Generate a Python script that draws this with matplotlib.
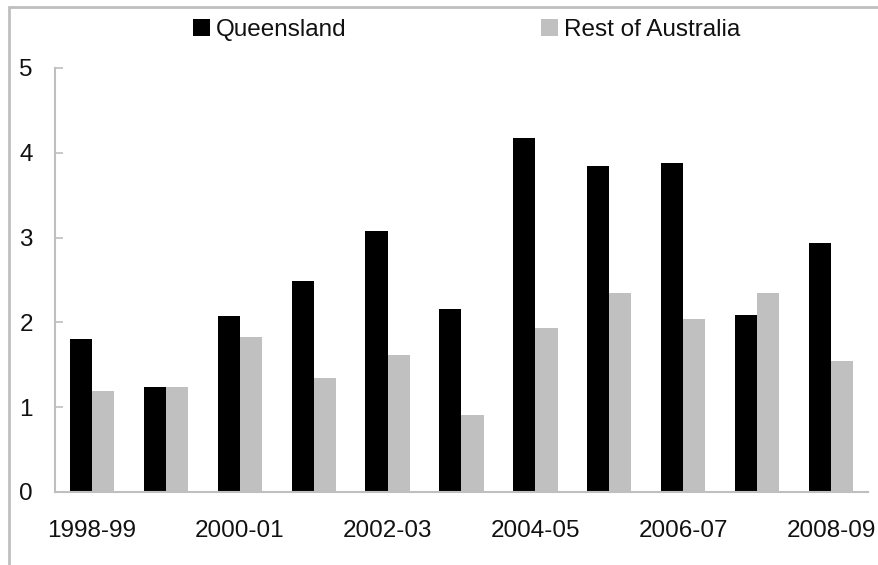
import matplotlib
matplotlib.use("Agg")
import matplotlib.pyplot as plt
from matplotlib.patches import Rectangle
import numpy as np

categories = ["1998-99", "1999-00", "2000-01", "2001-02", "2002-03", "2003-04",
              "2004-05", "2005-06", "2006-07", "2007-08", "2008-09"]
queensland = [1.81, 1.24, 2.07, 2.49, 3.08, 2.16, 4.17, 3.84, 3.88, 2.09, 2.94]
rest_of_australia = [1.19, 1.24, 1.83, 1.34, 1.62, 0.91, 1.93, 2.35, 2.04, 2.35, 1.55]
series_names = ["Queensland", "Rest of Australia"]
y_ticks = [0, 1, 2, 3, 4, 5]

plt.rcParams['font.family'] = ['Liberation Sans', 'DejaVu Sans']
FS = 17.5
AX_GREY = "#BFBFBF"
TXT = "#111111"

fig = plt.figure(figsize=(8.79, 5.65), dpi=100)
ax = fig.add_axes([55/879, 1 - 492/565, (868 - 55)/879, (492 - 68)/565])

x = np.arange(len(categories))
w = 0.3
b1 = ax.bar(x - w/2, queensland, width=w, color="#000000", label=series_names[0])
b2 = ax.bar(x + w/2, rest_of_australia, width=w, color="#C0C0C0", label=series_names[1])

ax.set_xlim(-0.5, len(categories) - 0.5)
ax.set_ylim(0, 5)
ax.set_yticks(y_ticks)
ax.set_yticklabels([str(t) for t in y_ticks], fontsize=FS, color=TXT)
ax.set_xticks(x[::2])
ax.set_xticklabels(categories[::2], fontsize=FS, color=TXT)

for s in ["top", "right"]:
    ax.spines[s].set_visible(False)
for s in ["left", "bottom"]:
    ax.spines[s].set_color(AX_GREY)
    ax.spines[s].set_linewidth(1.5)

ax.tick_params(axis="y", direction="in", length=6, width=1.2, color=AX_GREY, pad=16)
ax.tick_params(axis="x", length=0, pad=20.5)

fig.legend(handles=[b1, b2], labels=series_names, loc="center",
           bbox_to_anchor=(0.531, 0.947), ncol=2, frameon=False, fontsize=FS,
           handlelength=0.7, handleheight=0.7, handletextpad=0.25,
           columnspacing=8.0, borderpad=0, labelcolor=TXT)

# outer chart frame (visible on left and top only)
fig.patches.append(Rectangle((9/879, -0.1), 1.2, 1.1 - 7/565,
                             transform=fig.transFigure, fill=False,
                             edgecolor=AX_GREY, linewidth=2))

fig.savefig("out.png", dpi=100)
